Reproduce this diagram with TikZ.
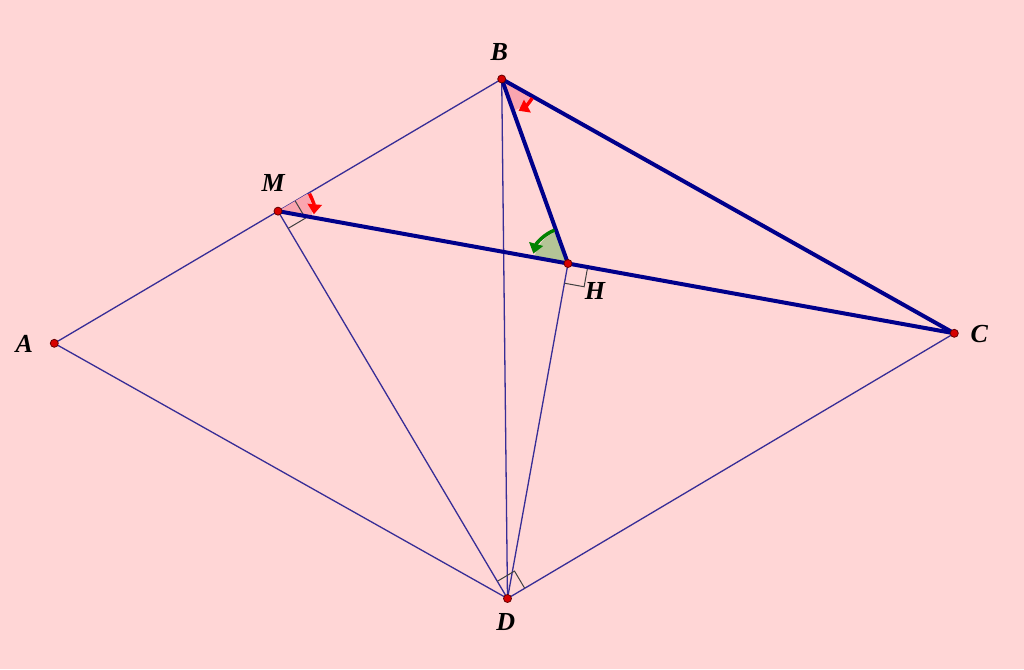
\documentclass[tikz,border=0pt]{standalone}
\usepackage{fontspec}
\setmainfont{Liberation Serif}
\usetikzlibrary{calc,arrows.meta}
\definecolor{bgpink}{RGB}{255,214,214}
\definecolor{navy}{RGB}{0,0,139}
\definecolor{thinblue}{RGB}{55,45,150}
\definecolor{sectpink}{RGB}{250,165,175}
\definecolor{sectgreen}{RGB}{180,196,150}
\definecolor{ptred}{RGB}{215,0,0}
\definecolor{arrgreen}{RGB}{0,130,0}
\tikzset{
  thinline/.style={draw=thinblue,line width=1.3pt},
  thickline/.style={draw=navy,line width=4pt,line cap=round},
  rightmark/.style={draw=black!75,line width=1pt},
  angarrow/.style={line width=3.5pt,-{Triangle[length=10pt,width=14pt]}},
  ptdot/.style={circle,fill=ptred,draw=black!60!red,line width=0.8pt,inner sep=0pt,minimum size=8pt},
  lbl/.style={font=\fontsize{26}{30}\selectfont\bfseries\itshape,text=black,inner sep=0pt}
}
\begin{document}
\begin{tikzpicture}[x=1pt,y=1pt]
\fill[bgpink] (0,0) rectangle (1024,-669);
\useasboundingbox (0,0) rectangle (1024,-669);
\coordinate (A) at (54.3,-343.3);
\coordinate (B) at (501.7,-79);
\coordinate (C) at (954.3,-333.3);
\coordinate (D) at (507.5,-598.5);
\coordinate (M) at ($(A)!0.5!(B)$);
\coordinate (H) at ($(M)!(D)!(C)$);
% thin lines
\draw[thinline] (A) -- (B);
\draw[thinline] (A) -- (D) -- (C);
\draw[thinline] (B) -- (D);
\draw[thinline] (M) -- (D);
\draw[thinline] (H) -- (D);
% sectors
\fill[sectpink] (M) -- ++(-10.25:34) arc[start angle=-10.25,end angle=30.58,radius=34] -- cycle;
\fill[sectpink] (B) -- ++(-70.22:34) arc[start angle=-70.22,end angle=-29.33,radius=34] -- cycle;
\fill[sectgreen] (H) -- ++(109.78:34) arc[start angle=109.78,end angle=169.73,radius=34] -- cycle;
% right angle marks
\coordinate (m1) at ($(M)!20pt!(B)$);
\coordinate (m2) at ($(M)!20pt!(D)$);
\draw[rightmark] (m1) -- ($(m1)+(m2)-(M)$) -- (m2);
\coordinate (d1) at ($(D)!20pt!(M)$);
\coordinate (d2) at ($(D)!20pt!(C)$);
\draw[rightmark] (d1) -- ($(d1)+(d2)-(D)$) -- (d2);
\coordinate (h1) at ($(H)!20pt!(D)$);
\coordinate (h2) at ($(H)!20pt!(C)$);
\draw[rightmark] (h1) -- ($(h1)+(h2)-(H)$) -- (h2);
% thick lines
\draw[thickline] (B) -- (C);
\draw[thickline] (B) -- (H);
\draw[thickline] (M) -- (C);
% angle arrows
\draw[angarrow,red] ($(M)+(29:36)$) arc[start angle=29,end angle=-5,radius=36];
\draw[angarrow,red] ($(B)+(-32:36)$) arc[start angle=-32,end angle=-62,radius=36];
\draw[angarrow,arrgreen] ($(H)+(112:36)$) arc[start angle=112,end angle=164,radius=36];
% points
\foreach \p in {A,B,C,D,M,H} \node[ptdot] (dot\p) at (\p) {};
% labels
\node[lbl] (lA) at (24.3,-344) {A};
\node[lbl] (lB) at (499.3,-51.7) {B};
\node[lbl] (lC) at (979.3,-334) {C};
\node[lbl] (lD) at (505.7,-622) {D};
\node[lbl] (lM) at (273.3,-183.3) {M};
\node[lbl] (lH) at (595,-291) {H};
\end{tikzpicture}
\end{document}
